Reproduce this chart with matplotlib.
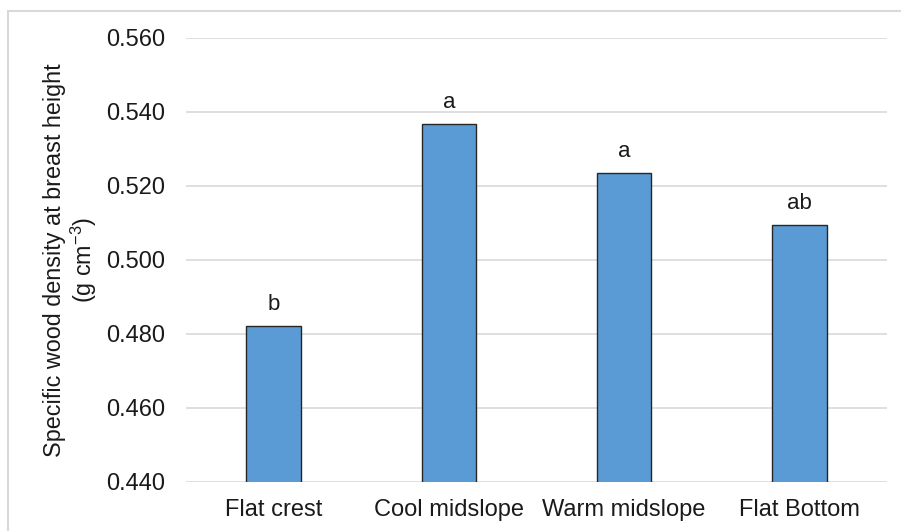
import matplotlib
matplotlib.use("Agg")
import matplotlib.pyplot as plt
from matplotlib.patches import Rectangle

plt.rcParams['font.family'] = ['Liberation Sans', 'DejaVu Sans']
plt.rcParams['mathtext.fontset'] = 'custom'
plt.rcParams['mathtext.rm'] = 'Liberation Sans'
plt.rcParams['mathtext.it'] = 'Liberation Sans'

categories = ["Flat crest", "Cool midslope", "Warm midslope", "Flat Bottom"]
values = [0.4822, 0.5367, 0.5235, 0.5094]
letters = ["b", "a", "a", "ab"]
yticks = [0.440, 0.460, 0.480, 0.500, 0.520, 0.540, 0.560]

fig = plt.figure(figsize=(9.01, 5.31), dpi=100)
ax = fig.add_axes([186/901, 1-482/531, (887-186)/901, (482-37.5)/531])

x = list(range(len(categories)))
bars = ax.bar(x, values, width=0.31, color='#5b9bd5', edgecolor='#262626', linewidth=1.0, zorder=3)

for xi, v, lab in zip(x, values, letters):
    ax.annotate(lab, (xi, v), xytext=(0, 8), textcoords='offset points',
                ha='center', va='bottom', fontsize=16, color='#1a1a1a')

ax.set_xlim(-0.5, 3.5)
ax.set_ylim(0.44, 0.56)
ax.set_yticks(yticks)
ax.set_yticklabels([f"{t:.3f}" for t in yticks])
ax.set_xticks(x)
ax.set_xticklabels(categories)
ax.tick_params(axis='y', length=0, pad=15, labelsize=17, labelcolor='#1a1a1a')
ax.tick_params(axis='x', length=0, pad=12, labelsize=17, labelcolor='#1a1a1a')
for s in ax.spines.values():
    s.set_visible(False)
ax.grid(axis='y', color='#d9d9d9', linewidth=1.2, zorder=0)
ax.set_axisbelow(True)

ax.set_ylabel("Specific wood density at breast height\n(g cm$^{-3}$)", fontsize=16.8,
              color='#1a1a1a', linespacing=1.12, labelpad=5)

fig.patches.append(Rectangle((8/901, -0.2), 1.5, (531-11)/531 + 0.2,
                             transform=fig.transFigure, fill=False,
                             edgecolor='#d9d9d9', linewidth=1.5))

fig.savefig("out.png", dpi=100, facecolor='white')
